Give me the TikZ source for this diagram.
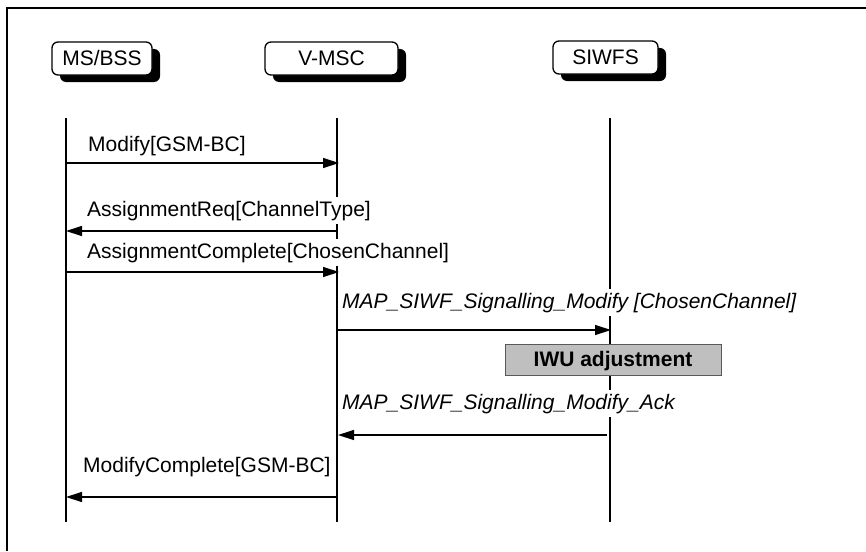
\documentclass[tikz,border=0pt]{standalone}
\usepackage{fontspec}
\setmainfont{Liberation Sans}
\usetikzlibrary{arrows.meta,shadows}
\begin{document}
\begin{tikzpicture}[x=1pt,y=-1pt,
  font=\fontsize{21}{25}\selectfont,
  lifeline/.style={line width=2pt},
  msg/.style={line width=1.3pt,-{Triangle[length=16pt,width=10pt]}},
  lbl/.style={anchor=base west,fill=white,inner xsep=3pt,inner ysep=4pt},
  hdr/.style={draw,line width=1.3pt,rounded corners=6pt,fill=white,
    minimum height=33pt,inner sep=0pt,text height=15pt,text depth=2pt,
    drop shadow={opacity=1,fill=black,shadow xshift=8pt,shadow yshift=-7pt}},
  actbox/.style={draw=black!65,line width=1pt,fill=black!25,minimum width=216pt,
    minimum height=31pt,inner sep=0pt,text height=15pt,text depth=2pt,font=\fontsize{21}{25}\selectfont\bfseries},
  frame/.style={line width=2.4pt}
]
\useasboundingbox (0,0) rectangle (866,551);
% frame
\coordinate (fa) at (7,551);
\coordinate (fb) at (7,8);
\coordinate (fc) at (866,8);
\draw[frame] (fa) -- (fb) -- (fc);

% lifelines
\coordinate (ms1) at (66,118);   \coordinate (ms2) at (66,522);
\coordinate (vm1) at (337,118);  \coordinate (vm2) at (337,522);
\coordinate (sw1) at (609.5,118);\coordinate (sw2) at (609.5,522);
\draw[lifeline] (ms1) -- (ms2);
\draw[lifeline] (vm1) -- (vm2);
\draw[lifeline] (sw1) -- (sw2);

% labels
\node[lbl] (t1) at (85,151) {Modify[GSM-BC]};
\node[lbl] (t2) at (84,216) {AssignmentReq[ChannelType]};
\node[lbl] (t3) at (84,258) {AssignmentComplete[ChosenChannel]};
\node[lbl] (t4) at (339,308) {\itshape MAP\_SIWF\_Signalling\_Modify [ChosenChannel]};
\node[lbl] (t5) at (339,409) {\itshape MAP\_SIWF\_Signalling\_Modify\_Ack};
\node[lbl] (t6) at (80,472) {ModifyComplete[GSM-BC]\hspace{5pt}};

% messages
\coordinate (m1a) at (66,163);    \coordinate (m1b) at (339,163);
\coordinate (m2a) at (337,231);   \coordinate (m2b) at (66,231);
\coordinate (m3a) at (66,272);    \coordinate (m3b) at (339,272);
\coordinate (m4a) at (337,330);   \coordinate (m4b) at (611,330);
\coordinate (m5a) at (607,435);   \coordinate (m5b) at (338,435);
\coordinate (m6a) at (337,497);   \coordinate (m6b) at (66,497);
\draw[msg] (m1a) -- (m1b);
\draw[msg] (m2a) -- (m2b);
\draw[msg] (m3a) -- (m3b);
\draw[msg] (m4a) -- (m4b);
\draw[msg] (m5a) -- (m5b);
\draw[msg] (m6a) -- (m6b);

% action box
\node[actbox] (iwu) at (613,359.5) {IWU adjustment};

% headers
\node[hdr,minimum width=100pt] (hms) at (102,58.5) {MS/BSS};
\node[hdr,minimum width=133pt] (hvm) at (331.5,58.5) {V-MSC};
\node[hdr,minimum width=105pt] (hsw) at (605.5,57.5) {SIWFS};
\end{tikzpicture}
\end{document}
